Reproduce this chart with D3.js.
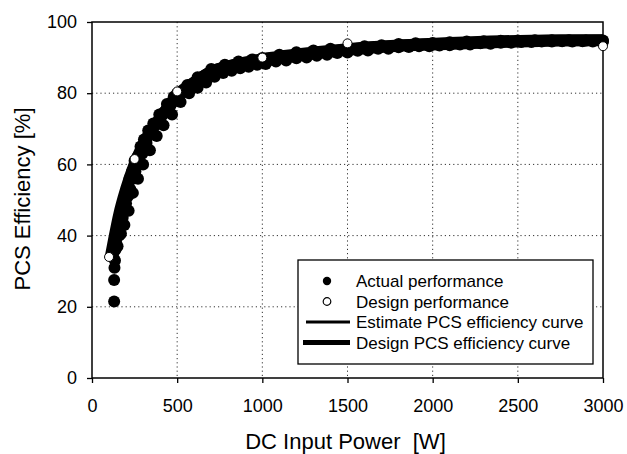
<!DOCTYPE html>
<html>
<head>
<meta charset="utf-8">
<script src="https://cdn.jsdelivr.net/npm/d3@7"></script>
<style>
  body { margin: 0; background: #fff; }
  svg { display: block; font-family: "Liberation Sans", Arial, sans-serif; }
  .ttl { white-space: pre; }
</style>
</head>
<body>
<svg width="627" height="454"></svg>
<script>
// measured points (W, %)
const actualPower = [130,130,132,135,138,142,148,150,155,160,165,170,175,180,185,190,195,200,205,210,220,225,235,240,250,255,265,275,285,295,305,320,330,345,360,380,395,420,440,460,480,
  170,190,215,240,270,300,340,380,420,470,
  500,560,620,700,780,860,940,1000,1100,1200,1300,1400,1500,1600,1700,1800,1900,2000,2100,2200,2300,2400,2500,2600,2700,2800,2900,3000,
  520,570,620,670,720,770,820,870,920,970,1020,1080,1140,1200,1260,1320,1380,1440,1500,1560,1620,1680,1740,1800,1860,1920,1980,2040,2100,2160,2220,2280,2340,2400,2460,2520,2580,2640,2700,2760,2820,2880,2940,3000];
const actualEff = [21.5,27.5,31,33,36,38,40,37,42,40,45,43,47,45,49,47,51,49,53,51,56,53,58,56,61,58,62,61,65,63,67,66,69.5,69,71.5,71.5,74,74.5,77,76.5,79,
  40.5,43,47,52,56,60,64,68,71,74,
  80,82.3,84.5,86.8,88,88.9,89.5,89.9,90.8,91.5,92,92.5,92.8,93.2,93.5,93.8,94,94.1,94.3,94.5,94.6,94.7,94.8,94.9,94.9,94.9,94.8,94.8,
  77.5,80,81.5,83,84.6,85.7,86.3,87,87.4,88,88.2,88.9,89.2,89.8,90,90.5,90.8,91.3,91.4,91.9,92,92.5,92.5,92.9,93,93.2,93.2,93.4,93.5,93.7,93.7,94,93.9,94.2,94.2,94.4,94.4,94.5,94.5,94.6,94.5,94.6,94.5,94.5];

const designPower = [100,250,500,1000,1500,3000];
const designEff = [34,61.5,80.5,90,94,93.2];

const estPower = [130,150,175,200,250,300,350,400,500,600,700,800,1000,1200,1500,1800,2100,2400,2700,3000];
const estEff = [34,40,46,51,59,65,69.5,73.5,80,83.5,86.5,88,90,91.3,92.8,93.8,94.5,95,95.2,95.2];

const designCurvePower = [110,130,160,200,250,300,400,500,600,700,800,1000,1200,1500,1800,2000,2400,2750,3000];
const designCurveEff = [34,39,46,53,60,65.5,73,78.9,83,86,87.5,89,90.5,92.2,93.3,93.7,94.4,94.8,94.9];

const xTicks = [0,500,1000,1500,2000,2500,3000];
const yTicks = [0,20,40,60,80,100];

const legendItems = [
  {label: 'Actual performance', kind: 'dot'},
  {label: 'Design performance', kind: 'open'},
  {label: 'Estimate PCS efficiency curve', kind: 'thin'},
  {label: 'Design PCS efficiency curve', kind: 'thick'}
];

const svg = d3.select('svg');
const margin = {top: 22, right: 24, bottom: 76, left: 92};
const width = +svg.attr('width');
const height = +svg.attr('height');
const innerWidth = width - margin.left - margin.right;
const innerHeight = height - margin.top - margin.bottom;

const x = d3.scaleLinear().domain([0, 3000]).range([0, innerWidth]);
const y = d3.scaleLinear().domain([0, 100]).range([innerHeight, 0]);

const g = svg.append('g').attr('transform', `translate(${margin.left},${margin.top})`);

// dotted grid
g.append('g').selectAll('line').data(xTicks.slice(1, -1))
  .enter().append('line')
  .attr('x1', d => x(d)).attr('x2', d => x(d))
  .attr('y1', 0).attr('y2', innerHeight)
  .attr('stroke', '#333').attr('stroke-width', 1).attr('stroke-dasharray', '1.2,3');
g.append('g').selectAll('line').data(yTicks.slice(1, -1))
  .enter().append('line')
  .attr('y1', d => y(d)).attr('y2', d => y(d))
  .attr('x1', 0).attr('x2', innerWidth)
  .attr('stroke', '#333').attr('stroke-width', 1).attr('stroke-dasharray', '1.2,3');

// axes
const xAxis = g.append('g').attr('transform', `translate(0,${innerHeight})`)
  .call(d3.axisBottom(x).tickValues(xTicks).tickFormat(d3.format('d')).tickSize(5).tickPadding(16));
const yAxis = g.append('g')
  .call(d3.axisLeft(y).tickValues(yTicks).tickFormat(d3.format('d')).tickSize(5).tickPadding(10));
[xAxis, yAxis].forEach(a => {
  a.select('.domain').remove();
  a.selectAll('.tick line').attr('stroke', '#000').attr('stroke-width', 1.3);
  a.selectAll('.tick text').attr('font-size', 18).attr('fill', '#000')
    .attr('font-family', '"Liberation Sans", Arial, sans-serif');
});

// frame
g.append('rect').attr('width', innerWidth).attr('height', innerHeight)
  .attr('fill', 'none').attr('stroke', '#000').attr('stroke-width', 1.5);

// curves
const line = d3.line().x(d => x(d[0])).y(d => y(d[1])).curve(d3.curveMonotoneX);
g.append('path').datum(d3.zip(designCurvePower, designCurveEff))
  .attr('d', line).attr('fill', 'none').attr('stroke', '#000').attr('stroke-width', 12);
g.append('path').datum(d3.zip(estPower, estEff))
  .attr('d', line).attr('fill', 'none').attr('stroke', '#000').attr('stroke-width', 9);

// actual points
g.append('g').selectAll('circle').data(d3.zip(actualPower, actualEff))
  .enter().append('circle')
  .attr('cx', d => x(d[0])).attr('cy', d => y(d[1])).attr('r', 6)
  .attr('fill', '#000');

// design points
g.append('g').selectAll('circle').data(d3.zip(designPower, designEff))
  .enter().append('circle')
  .attr('cx', d => x(d[0])).attr('cy', d => y(d[1])).attr('r', 4.5)
  .attr('fill', '#fff').attr('stroke', '#000').attr('stroke-width', 1);

// legend
const lg = svg.append('g').attr('transform', 'translate(298,260)');
lg.append('rect').attr('width', 295).attr('height', 104)
  .attr('fill', '#fff').attr('stroke', '#000').attr('stroke-width', 1.3);
const rows = lg.selectAll('g.row').data(legendItems).enter().append('g')
  .attr('transform', (d, i) => `translate(0,${21 + i * 20.5})`);
rows.append('text').attr('x', 58).attr('y', 6).attr('font-size', 17).text(d => d.label);
rows.filter(d => d.kind === 'dot').append('circle').attr('cx', 29).attr('cy', 0).attr('r', 4.2).attr('fill', '#000');
rows.filter(d => d.kind === 'open').append('circle').attr('cx', 29).attr('cy', 0).attr('r', 3.8)
  .attr('fill', '#fff').attr('stroke', '#000').attr('stroke-width', 1.2);
rows.filter(d => d.kind === 'thin').append('line').attr('x1', 8).attr('x2', 52).attr('y1', 0).attr('y2', 0)
  .attr('stroke', '#000').attr('stroke-width', 3);
rows.filter(d => d.kind === 'thick').append('line').attr('x1', 5).attr('x2', 52).attr('y1', 0).attr('y2', 0)
  .attr('stroke', '#000').attr('stroke-width', 5);

// axis titles
svg.append('text').attr('class', 'ttl').attr('x', margin.left + innerWidth / 2 - 2).attr('y', 449)
  .attr('text-anchor', 'middle').attr('font-size', 22).text('DC Input Power  [W]');
svg.append('text').attr('class', 'ttl').attr('transform', 'translate(30,199) rotate(-90)')
  .attr('text-anchor', 'middle').attr('font-size', 22).text('PCS Efficiency [%]');
</script>
</body>
</html>
